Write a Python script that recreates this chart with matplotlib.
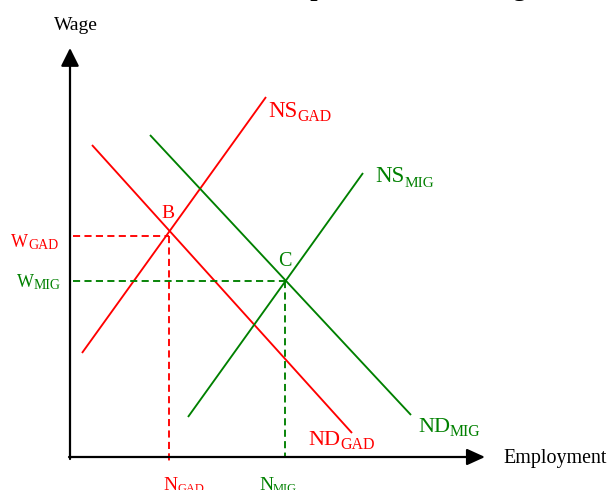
import matplotlib
matplotlib.use("Agg")
import matplotlib.pyplot as plt

plt.rcParams['font.family'] = ['Liberation Serif', 'DejaVu Serif']

# ---- data (employment, wage) in chart units; origin at the axes corner ----
ns_gad_x = [12, 196];  ns_gad_y = [104, 360]
nd_gad_x = [22, 282];  nd_gad_y = [312, 24]
ns_mig_x = [118, 293]; ns_mig_y = [40, 284]
nd_mig_x = [80, 341];  nd_mig_y = [322, 42]

# equilibrium levels
n_gad, w_gad = 99, 221
n_mig, w_mig = 215, 176

RED = '#FF0000'
GREEN = '#008000'

fig = plt.figure(figsize=(6.07, 4.90), dpi=100)
ax = fig.add_axes([0, 0, 1, 1])
ax.set_xlim(-70, 537)
ax.set_ylim(-33, 457)
ax.axis('off')

lw = 1.35

# axes with arrows
ax.annotate('', xy=(0, 409), xytext=(0, -2),
            arrowprops=dict(arrowstyle='-|>,head_length=1.1,head_width=0.55',
                            lw=1.6, color='black', shrinkA=0, shrinkB=0))
ax.annotate('', xy=(415, 0), xytext=(-1, 0),
            arrowprops=dict(arrowstyle='-|>,head_length=1.1,head_width=0.5',
                            lw=1.6, color='black', shrinkA=0, shrinkB=0))

# curves
ax.plot(ns_gad_x, ns_gad_y, color=RED, lw=lw, solid_capstyle='butt')
ax.plot(nd_gad_x, nd_gad_y, color=RED, lw=lw, solid_capstyle='butt')
ax.plot(ns_mig_x, ns_mig_y, color=GREEN, lw=lw, solid_capstyle='butt')
ax.plot(nd_mig_x, nd_mig_y, color=GREEN, lw=lw, solid_capstyle='butt')

# dashed guides
dash = (0, (3.8, 2.3))
ax.plot([3, n_gad], [w_gad, w_gad], color=RED, lw=lw, linestyle=dash)
ax.plot([n_gad, n_gad], [w_gad, -6], color=RED, lw=lw, linestyle=dash)
ax.plot([3, n_mig], [w_mig, w_mig], color=GREEN, lw=lw, linestyle=dash)
ax.plot([n_mig, n_mig], [w_mig, 0], color=GREEN, lw=lw, linestyle=dash)


def sublabel(x, y, main, sub, color, size, subsize, drop=2.0):
    t = ax.text(x, y, main, color=color, fontsize=size, ha='left', va='baseline')
    ax.annotate(sub, xy=(1, 0), xycoords=t, xytext=(0, -drop),
                textcoords='offset points', ha='left', va='bottom',
                color=color, fontsize=subsize)
    return t


# curve labels (x = left edge, y = baseline)
sublabel(198, 340, 'NS', 'GAD', RED, 16.5, 11.3)
sublabel(305, 275, 'NS', 'MIG', GREEN, 16.5, 11.0)
sublabel(238, 12, 'ND', 'GAD', RED, 16.0, 11.5)
sublabel(348, 25, 'ND', 'MIG', GREEN, 16.0, 11.3)
sublabel(-59, 210, 'W', 'GAD', RED, 13.0, 10.0, drop=1.0)
sublabel(-53, 170, 'W', 'MIG', GREEN, 13.0, 10.0, drop=1.0)
sublabel(93, -33, 'N', 'GAD', RED, 14.0, 9.0, drop=1.0)
sublabel(189, -33, 'N', 'MIG', GREEN, 14.0, 9.0, drop=1.0)

# point labels
ax.text(n_gad - 1, 239, 'B', color=RED, fontsize=14, ha='center', va='baseline')
ax.text(n_mig, 191, 'C', color=GREEN, fontsize=14.5, ha='center', va='baseline')

# axis titles
ax.text(-16, 427, 'Wage', fontsize=14, ha='left', va='baseline', color='black')
ax.text(433, -6, 'Employment', fontsize=14.4, ha='left', va='baseline', color='black')

# title cut off at top of the image
ax.text(208, 460.5, 'Impact of Return Migration', fontsize=19, fontweight='bold',
        ha='left', va='baseline', color='black')

fig.savefig('out.png', dpi=100)
